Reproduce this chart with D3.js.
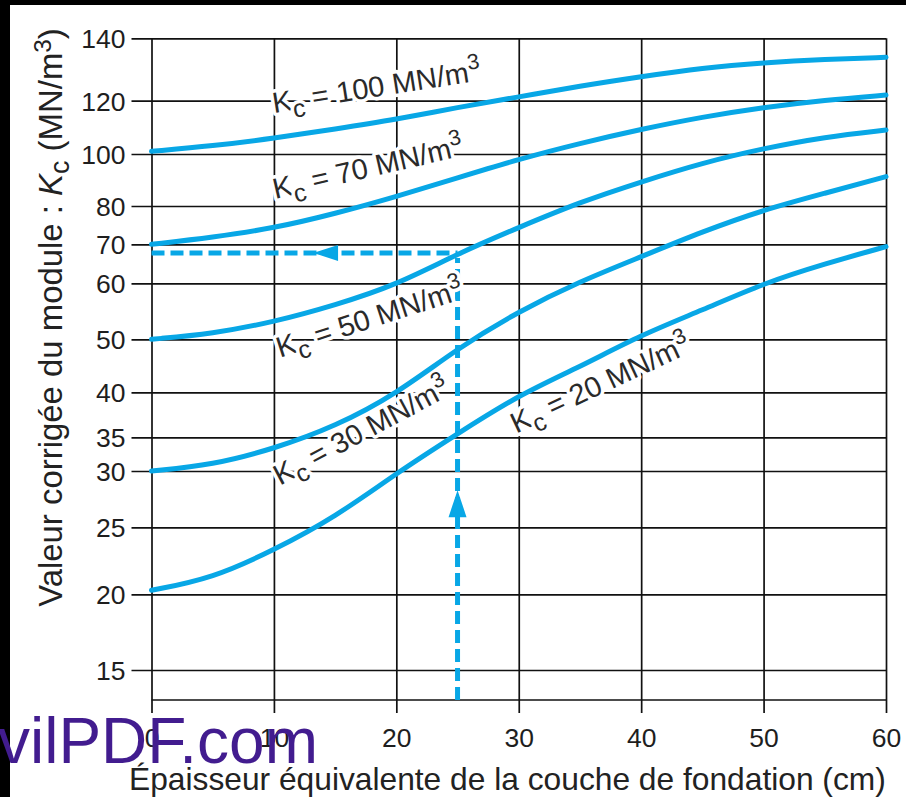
<!DOCTYPE html>
<html>
<head>
<meta charset="utf-8">
<script src="https://cdn.jsdelivr.net/npm/d3@7"></script>
<style>
  html, body { margin: 0; padding: 0; background: #fff; }
  svg { display: block; }
  text { font-family: "Liberation Sans", Arial, Helvetica, sans-serif; }
</style>
</head>
<body>
<script>
// ---------- data ----------
const xValues = [0, 5, 10, 15, 20, 25, 30, 35, 40, 45, 50, 55, 60];
const kc100 = [101, 103, 105.9, 109.4, 113, 117.5, 121.2, 124.7, 127.7, 130.5, 132.2, 133.3, 133.9];
const kc70  = [70, 71.8, 74.2, 78, 83.6, 90.8, 98, 104, 109.3, 113.9, 117.5, 120.2, 121.8];
const kc50  = [50, 51, 53.1, 56.1, 59.7, 67.6, 74.4, 81.5, 89.3, 96.6, 102.1, 106.4, 109];
const kc30  = [30, 30.9, 33.3, 36.2, 39.8, 48.3, 55, 60.5, 66.8, 73.3, 79, 84.9, 91.3];
const kc20  = [20.3, 21.2, 23.3, 25.9, 29.8, 35.4, 39.7, 44.8, 50.8, 55.2, 60, 65, 69.4];
const seriesNames = ["100", "70", "50", "30", "20"];
const xTicks = [0, 10, 20, 30, 40, 50, 60];
const yTicks = [15, 20, 25, 30, 35, 40, 50, 60, 70, 80, 100, 120, 140];
// worked example (dashed construction)
const exampleX = 25;
const exampleY = 67.8;
const arrowTipX = 13.2;   // x value of left-pointing arrow tip
const arrowTipY = 28.3;   // y value of up-pointing arrow tip
// label anchors (x value, y value)
const labelX = [10.0, 10.1, 10.5, 10.5, 29.8];
const labelY = [115.4, 82.7, 46.5, 28.7, 35.4];
const labelAngle = [-9, -13, -18, -28, -25];
const xTitle = "Épaisseur équivalente de la couche de fondation (cm)";
const watermark = "vilPDF.com";

// ---------- layout ----------
const W = 906, H = 797;
const BLUE = "#08a7e6";
const svg = d3.select("body").append("svg").attr("width", W).attr("height", H);
svg.append("rect").attr("width", W).attr("height", H).attr("fill", "#fff");

const x = d3.scaleLinear().domain([0, 60]).range([151.5, 886]);
// non-uniform printed scale of the original abacus
const y = d3.scaleLinear()
  .domain([13, 15, 20, 25, 30, 35, 40, 50, 60, 70, 80, 100, 120, 140])
  .range([700, 670, 594.3, 527.3, 471, 437.3, 392.3, 339.3, 283.3, 244.3, 206, 154, 100.7, 38.3]);

const yTop = y(140), yBot = y(13);
const gridColor = "#111";

// Y axis + horizontal grid
const gy = svg.append("g").attr("transform", `translate(${x(0)},0)`)
  .call(d3.axisLeft(y).tickValues(yTicks).tickSize(20).tickPadding(6));
gy.select(".domain").remove();
gy.selectAll(".tick line").attr("x1", -20).attr("x2", x(60) - x(0))
  .attr("stroke", gridColor).attr("stroke-width", 1.7);
gy.selectAll(".tick text").attr("font-size", 26.5).attr("fill", "#1e1e1e")
  .attr("font-family", "Liberation Sans, Arial, sans-serif").attr("dy", "0.36em");

// bottom line
svg.append("line").attr("x1", x(0)).attr("x2", x(60)).attr("y1", yBot).attr("y2", yBot)
  .attr("stroke", gridColor).attr("stroke-width", 1.7);

// X axis + vertical grid
const gx = svg.append("g").attr("transform", `translate(0,${yBot})`)
  .call(d3.axisBottom(x).tickValues(xTicks).tickSize(13));
gx.select(".domain").remove();
gx.selectAll(".tick line").attr("y1", yTop - yBot).attr("y2", 13)
  .attr("stroke", gridColor).attr("stroke-width", 1.7);
gx.selectAll(".tick text").attr("font-size", 26.5).attr("fill", "#1e1e1e")
  .attr("font-family", "Liberation Sans, Arial, sans-serif").attr("y", 47).attr("dy", 0);

// dashed construction lines
const dash = svg.append("g").attr("stroke", BLUE).attr("stroke-width", 5)
  .attr("stroke-dasharray", "13,6").attr("fill", "none");
dash.append("line").attr("x1", x(0)).attr("x2", x(exampleX))
  .attr("y1", y(exampleY)).attr("y2", y(exampleY));
dash.append("line").attr("x1", x(exampleX)).attr("x2", x(exampleX))
  .attr("y1", yBot).attr("y2", y(exampleY) + 5);
// arrowheads
const ax = x(arrowTipX), ay = y(exampleY);
svg.append("path").attr("fill", BLUE)
  .attr("d", `M${ax},${ay} L${ax + 25},${ay - 8} L${ax + 25},${ay + 8} Z`);
const bx = x(exampleX), by = y(arrowTipY);
svg.append("path").attr("fill", BLUE)
  .attr("d", `M${bx},${by} L${bx - 9},${by + 27} L${bx + 9},${by + 27} Z`);

// curve labels
function addLabel(i) {
  const t = svg.append("text")
    .attr("transform", `translate(${x(labelX[i])},${y(labelY[i])}) rotate(${labelAngle[i]})`)
    .attr("font-size", 29).attr("fill", "#2a2a2a")
    .attr("stroke", "#fff").attr("stroke-width", 7).attr("stroke-linejoin", "round")
    .attr("paint-order", "stroke");
  t.append("tspan").text("K");
  t.append("tspan").attr("dy", 8).attr("font-size", 25).text("c");
  t.append("tspan").attr("dy", -8).text(" = " + seriesNames[i] + " MN/m");
  t.append("tspan").attr("dy", -12).attr("font-size", 22).text("3");
}
[0, 1, 2, 3, 4].forEach(addLabel);

// curves
const line = d3.line().x((d, i) => x(xValues[i])).y(d => y(d)).curve(d3.curveBasis);
[kc100, kc70, kc50, kc30, kc20].forEach(s => {
  svg.append("path").datum(s).attr("d", line).attr("fill", "none")
    .attr("stroke", BLUE).attr("stroke-width", 5).attr("stroke-linecap", "round");
});

// Y title
const yt = svg.append("text").attr("transform", `translate(62,${(607 + 28) / 2}) rotate(-90)`)
  .attr("text-anchor", "middle").attr("font-size", 27).attr("fill", "#222");
yt.append("tspan").text("Valeur corrigée du module : ");
yt.append("tspan").attr("font-style", "italic").text("K");
yt.append("tspan").attr("dy", 7).attr("font-size", 22).text("c");
yt.append("tspan").attr("dy", -7).text(" (MN/m");
yt.append("tspan").attr("dy", -11).attr("font-size", 20).text("3");
yt.append("tspan").attr("dy", 11).text(")");
{
  const len = yt.node().getComputedTextLength();
  const f = 579 / len;
  yt.attr("font-size", 27 * f);
  yt.selectAll("tspan").each(function () {
    const fs = d3.select(this).attr("font-size");
    if (fs) d3.select(this).attr("font-size", fs * f);
  });
}

// X title
const xt = svg.append("text").attr("x", 129).attr("y", 790)
  .attr("font-size", 27).attr("fill", "#222").text(xTitle);
{
  const len = xt.node().getComputedTextLength();
  xt.attr("font-size", 27 * 757 / len);
}

// frame strips
svg.append("rect").attr("x", 0).attr("y", 0).attr("width", W).attr("height", 5).attr("fill", "#000");
svg.append("rect").attr("x", 0).attr("y", 0).attr("width", 10).attr("height", H).attr("fill", "#000");

// watermark
const wm = svg.append("text").attr("x", -2).attr("y", 763)
  .attr("font-family", "Noto Sans, Open Sans, sans-serif")
  .attr("font-size", 52).attr("fill", "#421c8f").text(watermark);
{
  const len = wm.node().getComputedTextLength();
  wm.attr("font-size", 52 * 320 / len);
}
</script>
</body>
</html>
